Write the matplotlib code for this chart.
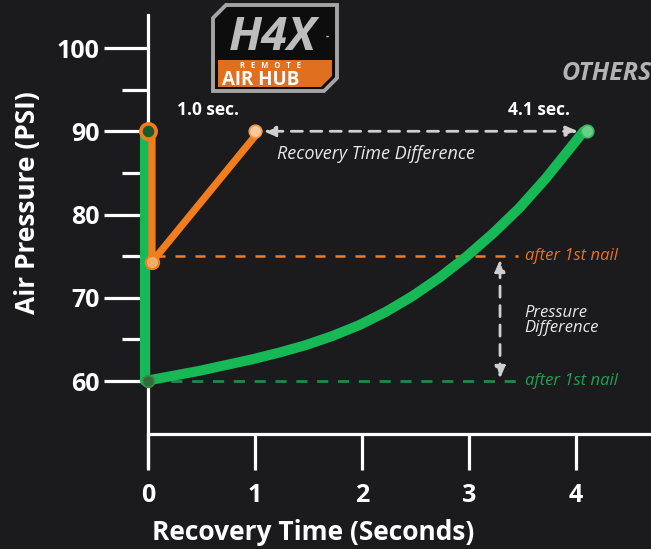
import numpy as np
import matplotlib
matplotlib.use("Agg")
import matplotlib.pyplot as plt
from matplotlib.patches import Polygon, Circle
from matplotlib.transforms import ScaledTranslation

plt.rcParams["font.family"] = ["Open Sans", "DejaVu Sans"]

# data
green_time = [0, 0, 0.25, 0.5, 0.75, 1.0, 1.25, 1.5, 1.75, 2.0, 2.25, 2.5, 2.75, 3.0,
              3.25, 3.5, 3.75, 4.1]
green_psi = [90, 60, 60.6, 61.2, 61.9, 62.6, 63.4, 64.3, 65.4, 66.7, 68.3, 70.2, 72.4, 74.9,
             77.7, 80.8, 84.4, 90]
orange_time = [0, 0, 1.0]
orange_psi = [90, 74.3, 90]
after_nail_orange = 75
after_nail_green = 60
x_ticks = [0, 1, 2, 3, 4]
y_major = [60, 70, 80, 90, 100]
y_minor = [65, 75, 85, 95]

BG = "#1b1b1d"
GREEN = "#17b956"
ORANGE = "#f27d1e"
W, H = 651, 549


def fx(px, py):
    # pixel position -> figure fraction
    return px / W, 1 - py / H


fig = plt.figure(figsize=(W / 100, H / 100), dpi=100, facecolor=BG)
ax = fig.add_axes([0, 0, 1, 1])
ax.set_facecolor(BG)
ax.set_xlim(-1.383, 4.701)
ax.set_ylim(39.82, 105.77)

# faint background drawing
for (x0, y0, x1, y1) in [(0, 548, 651, 206), (0, 530, 651, 140), (0, 350, 651, 60),
                         (0, 300, 420, 100), (120, 549, 651, 300)]:
    a, b = fx(x0, y0)
    c, d = fx(x1, y1)
    fig.add_artist(plt.Line2D([a, c], [b, d], color="#3a3a3e", lw=0.9, alpha=0.7, zorder=0))
for (cx, cy, r) in [(330, 640, 190), (560, 260, 160), (90, 60, 70), (30, 330, 40)]:
    fig.add_artist(Circle(fx(cx, cy), r / W, transform=fig.transFigure, fill=False,
                          ec="#34343a", lw=0.9, alpha=0.7, zorder=0))

# axes
for s in ["top", "right"]:
    ax.spines[s].set_visible(False)
ax.spines["left"].set_position(("data", 0))
ax.spines["left"].set_bounds(49.67, 103.96)
ax.spines["bottom"].set_position(("data", 53.63))
ax.spines["bottom"].set_bounds(0, 4.71)
for s in ["left", "bottom"]:
    ax.spines[s].set_color("white")
    ax.spines[s].set_linewidth(2.3)

ax.set_xticks(x_ticks)
ax.set_yticks(y_major)
ax.set_yticks(y_minor, minor=True)
ax.tick_params(axis="x", length=26, width=2.3, color="white", labelcolor="white",
               labelsize=18, pad=9)
ax.tick_params(axis="y", which="major", length=32, width=2.3, color="white",
               labelcolor="white", labelsize=18, pad=3)
ax.tick_params(axis="y", which="minor", length=19, width=2.3, color="white")
for lab in ax.get_xticklabels() + ax.get_yticklabels():
    lab.set_fontweight("bold")

fig.text(*fx(28, 203), "Air Pressure (PSI)", rotation=90, color="white", fontsize=19,
         fontweight="bold", ha="center", va="center")
fig.text(*fx(313, 532), "Recovery Time (Seconds)", color="white", fontsize=19,
         fontweight="bold", ha="center", va="center")

# reference levels
ax.plot([0.07, 3.46], [after_nail_orange] * 2, ls=(0, (4, 4)), lw=1.8, color=ORANGE, zorder=2)
ax.plot([0.02, 3.46], [after_nail_green] * 2, ls=(0, (4, 3.5)), lw=2.0, color="#1f8a4c", zorder=2)
ax.text(3.52, after_nail_orange, "after 1st nail", color="#e8721c", fontsize=12,
        style="italic", va="center")
ax.text(3.52, after_nail_green, "after 1st nail", color="#1fa052", fontsize=12,
        style="italic", va="center")

# series
green_off = ax.transData + ScaledTranslation(-3 / 100, 0, fig.dpi_scale_trans)
orange_off = ax.transData + ScaledTranslation(4 / 100, 0, fig.dpi_scale_trans)
ax.plot(green_time, green_psi, color=GREEN, lw=7.2, solid_capstyle="round",
        solid_joinstyle="round", transform=green_off, zorder=4)
ax.plot(orange_time, orange_psi, color=ORANGE, lw=5.2, solid_capstyle="round",
        solid_joinstyle="round", transform=orange_off, zorder=5)

# markers
ax.plot(orange_time[0], orange_psi[0], "o", ms=11, mfc="#1d5a30", mec=ORANGE, mew=2.6, zorder=6)
ax.plot(orange_time[1], orange_psi[1], "o", ms=9.5, mfc="#f6ad68", mec=ORANGE, mew=1.5,
        transform=orange_off, zorder=6)
ax.plot(orange_time[2], orange_psi[2], "o", ms=9, mfc="#f8c79a", mec="#f29a4c", mew=1.2, zorder=6)
ax.plot(green_time[1], green_psi[1], "o", ms=8.5, mfc="#2f6e3c", mec="#3f8a4d", mew=1.2, zorder=6)
ax.plot(green_time[-1], green_psi[-1], "o", ms=9, mfc="#6bd083", mec="#3fb561", mew=1.2, zorder=6)

# difference arrows
arrow = dict(arrowstyle="<|-|>,head_length=0.7,head_width=0.3", color="#cfcfcf", lw=2,
             linestyle=(0, (4, 3)), shrinkA=0, shrinkB=0)
ax.annotate("", xy=(1.08, 90), xytext=(4.02, 90), arrowprops=arrow, zorder=3)
ax.annotate("", xy=(3.29, 74.6), xytext=(3.29, 60.3), arrowprops=arrow, zorder=3)
ax.text(2.13, 87.3, "Recovery Time Difference", color="#e8e8e8", fontsize=13,
        style="italic", ha="center", va="center")
ax.text(3.52, 67.3, "Pressure\nDifference", color="#e8e8e8", fontsize=12,
        style="italic", ha="left", va="center", linespacing=0.95)

ax.text(0.56, 92.55, "1.0 sec.", color="white", fontsize=12.5, fontweight="bold",
        ha="center", va="center")
ax.text(3.65, 92.55, "4.1 sec.", color="white", fontsize=12.5, fontweight="bold",
        ha="center", va="center")
fig.text(*fx(607, 73), "OTHERS", color="#b3b3b3", fontsize=18, fontweight="bold",
         style="italic", ha="center", va="center")

# logo badge
badge = [fx(213, 18), fx(226, 5), fx(337, 5), fx(337, 78), fx(324, 91), fx(213, 91)]
fig.add_artist(Polygon(badge, closed=True, transform=fig.transFigure, fc="#0d0d0e",
                       ec="#a5a5a5", lw=2.8, zorder=10))
band = [fx(218, 60), fx(332, 60), fx(332, 76), fx(321, 87), fx(218, 87)]
fig.add_artist(Polygon(band, closed=True, transform=fig.transFigure, fc="#e0701f",
                       ec="none", zorder=11))
fig.text(*fx(273, 37), "H4X", color="#bdbdbd", fontsize=34, fontweight="bold",
         style="italic", ha="center", va="center", zorder=12)
fig.text(*fx(327, 36), "-", color="#bdbdbd", fontsize=7, fontweight="bold",
         ha="center", va="center", zorder=12)
fig.text(*fx(270, 66), "R   E   M   O   T   E", color="white", fontsize=5.5,
         fontweight="bold", ha="center", va="center", zorder=12)
fig.text(*fx(261, 80), "AIR HUB", color="white", fontsize=13.5, fontweight="bold",
         ha="center", va="center", zorder=12)

fig.savefig("out.png", dpi=100, facecolor=BG)
